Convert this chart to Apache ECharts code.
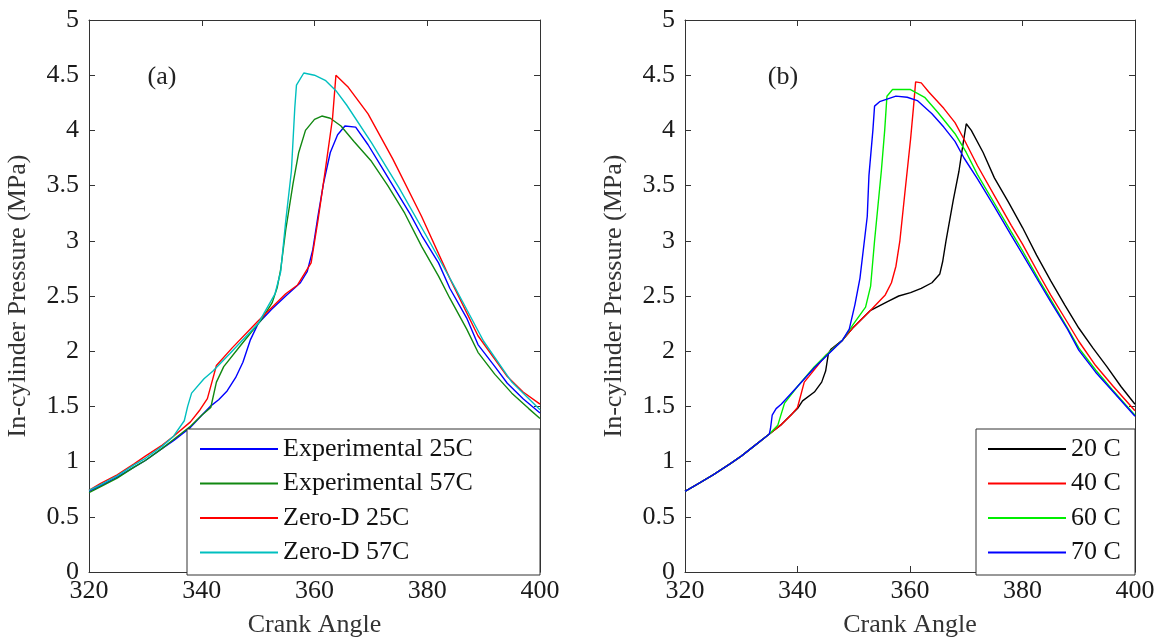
<!DOCTYPE html>
<html>
<head>
<meta charset="utf-8">
<script src="https://cdn.jsdelivr.net/npm/echarts@6/dist/echarts.min.js"></script>
<style>
  html, body { margin: 0; padding: 0; background: #fff; }
  #chart { width: 1165px; height: 643px; }
</style>
</head>
<body>
<div id="chart"></div>
<script>
// panel (a): crank angle vs pressure, [deg, MPa]
const exp25 = [[320,0.73],[322,0.78],[325,0.86],[328,0.95],[330,1.01],[333,1.12],[335,1.19],[338,1.31],[340,1.42],[341.5,1.5],[343,1.56],[344.5,1.64],[346,1.76],[347.3,1.9],[348.6,2.1],[350,2.25],[352.4,2.38],[354.9,2.5],[357.5,2.62],[358.7,2.72],[359.7,2.92],[360.6,3.22],[361.6,3.52],[362.8,3.8],[364.1,3.96],[365.4,4.04],[367.3,4.03],[369.5,3.87],[372,3.66],[374.6,3.44],[377,3.24],[379,3.05],[382,2.8],[384,2.57],[387,2.3],[389,2.06],[392,1.86],[394.2,1.71],[397,1.57],[400,1.44]]
const exp57 = [[320,0.72],[322,0.77],[325,0.85],[328,0.95],[330,1.01],[333,1.12],[335,1.2],[338,1.32],[340,1.42],[341.6,1.49],[342.6,1.72],[343.9,1.86],[346.7,2.04],[350.5,2.28],[352.5,2.44],[353.4,2.58],[354,2.74],[354.9,3.1],[356.2,3.52],[357.2,3.8],[358.4,4.0],[360,4.1],[361.3,4.13],[362.8,4.11],[364.7,4.04],[367,3.9],[370.1,3.72],[373,3.5],[376,3.25],[379,2.95],[382,2.68],[384,2.48],[387,2.2],[389,1.99],[392,1.79],[395,1.62],[398,1.48],[400,1.39]]
const zero25 = [[320,0.74],[322,0.8],[325,0.88],[328,0.98],[330,1.05],[333,1.15],[335,1.23],[338,1.36],[339.7,1.47],[341,1.57],[341.8,1.72],[342.6,1.87],[345.4,2.03],[349.9,2.27],[354.9,2.52],[357,2.6],[359.4,2.8],[360.6,3.18],[361.8,3.6],[363.2,4.11],[363.8,4.5],[366,4.39],[369.5,4.15],[373.9,3.74],[379,3.22],[384,2.66],[389,2.14],[394.2,1.77],[397,1.63],[400,1.52]]
const zero57 = [[320,0.74],[322,0.79],[325,0.87],[328,0.97],[330,1.03],[333,1.14],[335,1.23],[336.9,1.37],[337.5,1.5],[338.2,1.62],[340.4,1.75],[342,1.82],[345,1.98],[350,2.25],[353,2.52],[354,2.72],[354.9,3.18],[355.9,3.63],[356.5,4.2],[356.8,4.41],[358.1,4.52],[360,4.5],[362,4.45],[363.8,4.36],[365.7,4.23],[370.1,3.89],[375,3.48],[380,3.03],[385,2.57],[390,2.09],[395,1.72],[400,1.47]]

// panel (b)
const t20 = [[320,0.73],[322,0.79],[325,0.88],[328,0.98],[330,1.05],[333,1.17],[335,1.25],[337,1.33],[340,1.48],[340.9,1.55],[343,1.63],[344.3,1.72],[345,1.82],[345.5,1.98],[346,2.02],[348,2.1],[350,2.22],[353,2.37],[356,2.45],[358,2.5],[360.1,2.53],[362,2.57],[363.9,2.62],[365.3,2.7],[365.8,2.81],[366.4,3.0],[367.7,3.37],[368.7,3.63],[369.5,3.9],[370,4.06],[370.9,4.0],[373,3.8],[375,3.57],[377.5,3.35],[380,3.12],[382.5,2.87],[385,2.64],[387.5,2.42],[390,2.21],[392.5,2.03],[395,1.86],[397.5,1.68],[400,1.52]]
const t40 = [[320,0.73],[322,0.79],[325,0.88],[328,0.98],[330,1.05],[333,1.17],[335,1.25],[337,1.33],[339,1.43],[340,1.49],[341.2,1.72],[342,1.77],[345,1.96],[348,2.1],[350,2.22],[353,2.37],[355.6,2.51],[356.7,2.62],[357.5,2.77],[358.2,3.0],[359.1,3.44],[360.1,3.92],[360.6,4.2],[361,4.44],[362,4.43],[363.3,4.35],[366,4.2],[368,4.07],[369.6,3.92],[372,3.68],[375,3.41],[378,3.14],[380,2.97],[383,2.69],[385,2.51],[388,2.26],[390,2.09],[393,1.87],[396,1.69],[400,1.46]]
const t60 = [[320,0.73],[322,0.79],[325,0.88],[328,0.98],[330,1.05],[333,1.17],[335,1.25],[336.5,1.33],[337.7,1.53],[340,1.68],[343,1.86],[345,1.96],[348,2.1],[350,2.25],[352.1,2.4],[353,2.59],[353.7,3.0],[354.9,3.63],[355.5,4.0],[355.9,4.31],[356.9,4.37],[360.1,4.37],[362.6,4.3],[365,4.16],[368,3.97],[370,3.8],[372,3.6],[375,3.34],[378,3.08],[380,2.91],[383,2.64],[385,2.47],[388,2.21],[390,2.03],[393,1.83],[396,1.65],[400,1.42]]
const t70 = [[320,0.73],[322,0.79],[325,0.88],[328,0.98],[330,1.05],[333,1.17],[335,1.25],[335.2,1.3],[335.5,1.42],[336.2,1.48],[337.1,1.52],[338,1.57],[340,1.68],[343,1.85],[346,2.0],[348,2.1],[349.2,2.2],[350.2,2.42],[351.1,2.66],[352.4,3.22],[352.7,3.59],[353.4,4.0],[353.7,4.22],[354.6,4.26],[357.5,4.31],[359.5,4.3],[361.3,4.27],[363.9,4.15],[366,4.03],[368,3.9],[369.6,3.75],[372,3.56],[375,3.31],[378,3.05],[380,2.88],[383,2.62],[385,2.45],[388,2.2],[390,2.01],[393,1.81],[396,1.64],[400,1.41]]

const namesA = ['Experimental 25C', 'Experimental 57C', 'Zero-D 25C', 'Zero-D 57C']
const namesB = ['20 C', '40 C', '60 C', '70 C']
const colorsA = ['#0000ff', '#118811', '#ff0000', '#00bfbf']
const colorsB = ['#000000', '#ff0000', '#00ee00', '#0000ff']

const FONT = 'Liberation Serif'
const frame = '#333'

function xAx(grid, pos) {
  const bottom = pos === 'bottom'
  return {
    type: 'value', gridIndex: grid, position: pos,
    min: 320, max: 400, interval: 20,
    name: bottom ? 'Crank Angle' : '', nameLocation: 'middle', nameGap: 40,
    nameTextStyle: { fontFamily: FONT, fontSize: 26, color: '#333' },
    axisLine: { show: true, onZero: false, lineStyle: { color: frame, width: 1 } },
    axisTick: { show: true, inside: true, length: 6, lineStyle: { color: frame } },
    axisLabel: { show: bottom, fontFamily: FONT, fontSize: 26, color: '#1a1a1a', margin: 6 },
    splitLine: { show: false },
  }
}

function yAx(grid, pos) {
  const left = pos === 'left'
  return {
    type: 'value', gridIndex: grid, position: pos,
    min: 0, max: 5, interval: 0.5,
    name: left ? 'In-cylinder Pressure (MPa)' : '', nameLocation: 'middle', nameGap: 58,
    nameTextStyle: { fontFamily: FONT, fontSize: 26, color: '#333' },
    axisLine: { show: true, onZero: false, lineStyle: { color: frame, width: 1 } },
    axisTick: { show: true, inside: true, length: 6, lineStyle: { color: frame } },
    axisLabel: { show: left, fontFamily: FONT, fontSize: 26, color: '#1a1a1a', margin: 10 },
    splitLine: { show: false },
  }
}

function line(name, data, color, xi, yi) {
  return {
    name, type: 'line', data, xAxisIndex: xi, yAxisIndex: yi,
    symbol: 'none', smooth: false,
    lineStyle: { color, width: 1.4 },
    itemStyle: { color },
  }
}

function legend(names, left) {
  return {
    data: names.map((n) => ({ name: n, icon: 'rect' })),
    orient: 'vertical', left, top: 436, z: 1000,
    itemWidth: 78, itemHeight: 2, itemGap: 8.5, padding: 0,
    textStyle: { fontFamily: FONT, fontSize: 26, color: '#111', lineHeight: 26 },
    selectedMode: false,
  }
}

const chart = echarts.init(document.getElementById('chart'))
chart.setOption({
  backgroundColor: '#fff',
  animation: false,
  grid: [
    { left: 89, top: 20, width: 451, height: 555 },
    { left: 685, top: 20, width: 450, height: 555 },
  ],
  xAxis: [xAx(0, 'bottom'), xAx(0, 'top'), xAx(1, 'bottom'), xAx(1, 'top')],
  yAxis: [yAx(0, 'left'), yAx(0, 'right'), yAx(1, 'left'), yAx(1, 'right')],
  legend: [legend(namesA, 200), legend(namesB, 988)],
  graphic: [
    { type: 'rect', z: 100, shape: { x: 187, y: 429, width: 353, height: 146 }, style: { fill: '#fff', stroke: frame, lineWidth: 1 } },
    { type: 'rect', z: 100, shape: { x: 976, y: 429, width: 159, height: 146 }, style: { fill: '#fff', stroke: frame, lineWidth: 1 } },
    { type: 'text', z: 100, x: 162, y: 77, style: { text: '(a)', fontFamily: FONT, fontSize: 26, fill: '#222', align: 'center', verticalAlign: 'middle' } },
    { type: 'text', z: 100, x: 783, y: 77, style: { text: '(b)', fontFamily: FONT, fontSize: 26, fill: '#222', align: 'center', verticalAlign: 'middle' } },
  ],
  series: [
    line(namesA[0], exp25, colorsA[0], 0, 0),
    line(namesA[1], exp57, colorsA[1], 0, 0),
    line(namesA[2], zero25, colorsA[2], 0, 0),
    line(namesA[3], zero57, colorsA[3], 0, 0),
    line(namesB[0], t20, colorsB[0], 2, 2),
    line(namesB[1], t40, colorsB[1], 2, 2),
    line(namesB[2], t60, colorsB[2], 2, 2),
    line(namesB[3], t70, colorsB[3], 2, 2),
  ],
})
</script>
</body>
</html>
